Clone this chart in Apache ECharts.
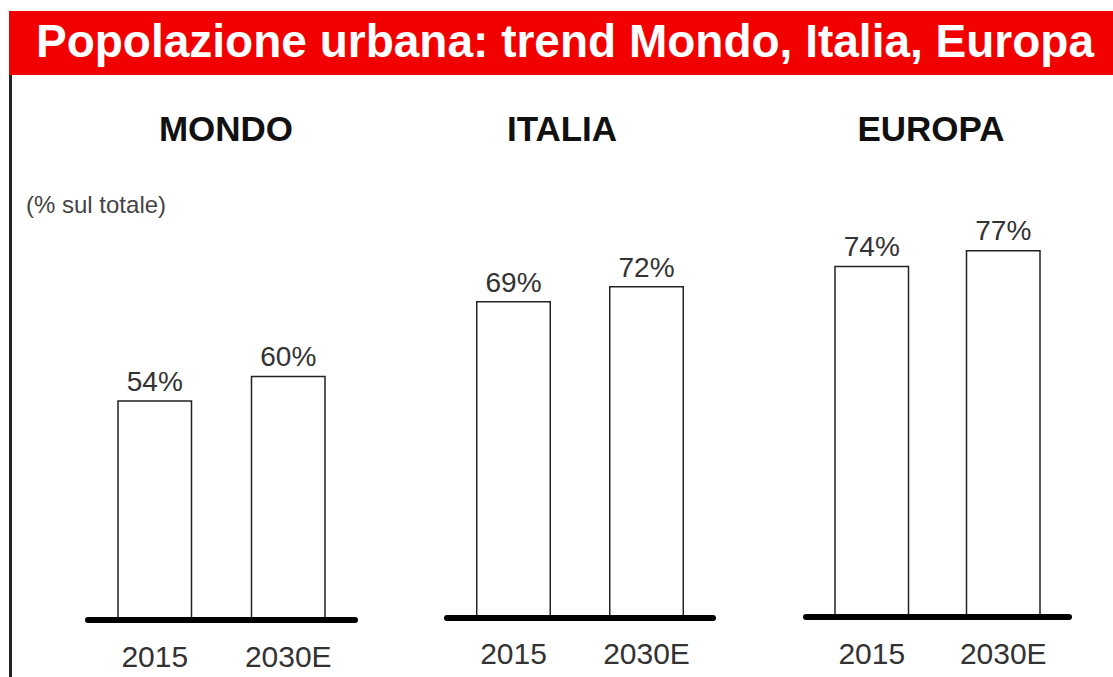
<!DOCTYPE html>
<html>
<head>
<meta charset="utf-8">
<script src="https://cdn.jsdelivr.net/npm/echarts@6/dist/echarts.min.js"></script>
<style>
html,body{margin:0;padding:0;background:#fff;}
#c{width:1113px;height:677px;}
</style>
</head>
<body>
<div id="c"></div>
<script>
const mainTitle = 'Popolazione urbana: trend Mondo, Italia, Europa';
const unitLabel = '(% sul totale)';
const categories = ['2015', '2030E'];
const panelNames = ['MONDO', 'ITALIA', 'EUROPA'];
const mondoValues = [54, 60];
const italiaValues = [69, 72];
const europaValues = [74, 77];

const FONT = '"Liberation Sans", Arial, sans-serif';
const panelValues = [mondoValues, italiaValues, europaValues];
const grids = [
  {left: 88, width: 267, top: 213, height: 407},
  {left: 447, width: 266, top: 217.5, height: 400},
  {left: 806, width: 263, top: 217, height: 400}
];
const yRanges = [[0, 100], [5.7, 85.7], [6.8, 83.3]];
const titleX = [226, 562, 931];

const chart = echarts.init(document.getElementById('c'), null, {renderer: 'svg'});

const option = {
  backgroundColor: '#fff',
  animation: false,
  textStyle: {fontFamily: FONT},
  grid: grids.map(g => Object.assign({containLabel: false}, g)),
  xAxis: grids.map((g, i) => ({
    type: 'category',
    gridIndex: i,
    data: categories,
    z: 5,
    axisLine: {lineStyle: {color: '#000', width: 6, cap: 'round'}},
    axisTick: {show: false},
    axisLabel: {fontSize: 30, color: '#333', margin: 21, fontFamily: FONT}
  })),
  yAxis: grids.map((g, i) => ({
    type: 'value',
    gridIndex: i,
    min: yRanges[i][0],
    max: yRanges[i][1],
    show: false
  })),
  series: panelValues.map((vals, i) => ({
    type: 'bar',
    xAxisIndex: i,
    yAxisIndex: i,
    data: vals,
    barWidth: 75,
    itemStyle: {color: '#fff', borderColor: '#222', borderWidth: 1.5},
    label: {
      show: true, position: 'top', distance: 5,
      formatter: '{c}%', fontSize: 28, color: '#333', fontFamily: FONT
    }
  })),
  graphic: [
    {type: 'rect', shape: {x: 9, y: 11, width: 1104, height: 64}, style: {fill: '#f20000'}, z: 1},
    {type: 'rect', shape: {x: 9, y: 75, width: 3, height: 602}, style: {fill: '#222'}, z: 1},
    {type: 'text', x: 565, y: 41, z: 2,
      style: {text: mainTitle, fill: '#fff', font: 'bold 46px ' + FONT, textAlign: 'center', textVerticalAlign: 'middle'}},
    {type: 'text', x: 26, y: 204, z: 2,
      style: {text: unitLabel, fill: '#444', font: '24px ' + FONT, textAlign: 'left', textVerticalAlign: 'middle'}}
  ].concat(panelNames.map((n, i) => ({
    type: 'text', x: titleX[i], y: 128, z: 2,
    style: {text: n, fill: '#111', font: 'bold 35px ' + FONT, textAlign: 'center', textVerticalAlign: 'middle'}
  })))
};
chart.setOption(option);
</script>
</body>
</html>
